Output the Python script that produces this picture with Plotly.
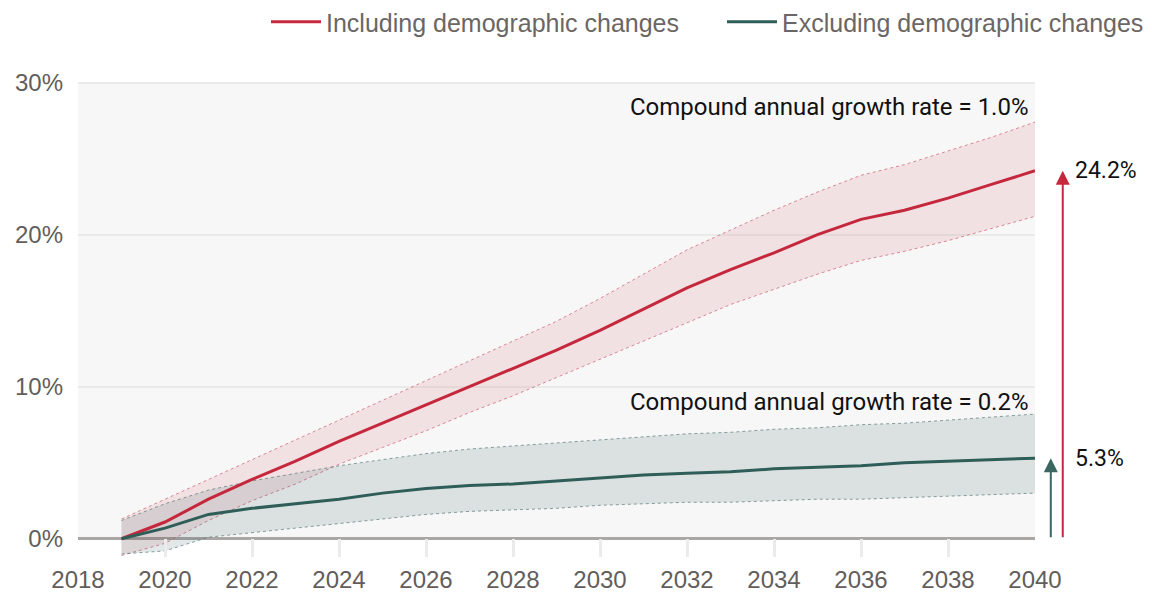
import plotly.graph_objects as go

years = list(range(2019, 2041))

incl = [0.0, 1.1, 2.6, 3.9, 5.1, 6.4, 7.6, 8.8, 10.0, 11.2, 12.4,
        13.7, 15.1, 16.5, 17.7, 18.8, 20.0, 21.0, 21.6, 22.4, 23.3, 24.2]
incl_upper = [1.3, 2.6, 3.9, 5.2, 6.5, 7.8, 9.1, 10.4, 11.7, 13.0, 14.3,
              15.8, 17.4, 19.0, 20.3, 21.6, 22.8, 23.9, 24.6, 25.5, 26.4, 27.4]
incl_lower = [-1.1, -0.3, 1.2, 2.5, 3.6, 4.9, 6.0, 7.1, 8.3, 9.4, 10.6,
              11.8, 13.0, 14.2, 15.4, 16.4, 17.4, 18.3, 18.9, 19.6, 20.4, 21.2]

excl = [0.0, 0.7, 1.6, 2.0, 2.3, 2.6, 3.0, 3.3, 3.5, 3.6, 3.8,
        4.0, 4.2, 4.3, 4.4, 4.6, 4.7, 4.8, 5.0, 5.1, 5.2, 5.3]
excl_upper = [1.2, 2.3, 3.2, 3.8, 4.3, 4.8, 5.2, 5.6, 5.9, 6.1, 6.3,
              6.5, 6.7, 6.9, 7.0, 7.2, 7.3, 7.5, 7.6, 7.8, 8.0, 8.2]
excl_lower = [-1.0, -0.8, 0.1, 0.4, 0.7, 1.0, 1.3, 1.6, 1.8, 1.9, 2.0,
              2.2, 2.3, 2.4, 2.4, 2.5, 2.6, 2.6, 2.7, 2.8, 2.9, 3.0]

x_ticks = list(range(2018, 2041, 2))
y_ticks = [0, 10, 20, 30]
y_labels = ["0%", "10%", "20%", "30%"]

RED = "#c5283d"
GREEN = "#2f5e59"

fig = go.Figure()

# background panel from 0% to 30%
fig.add_shape(type="rect", xref="x", yref="y", x0=2018, x1=2040, y0=0, y1=30,
              fillcolor="#f7f7f7", line_width=0, layer="below")

# uncertainty bands
def add_band(lower, upper, fill, edge):
    fig.add_trace(go.Scatter(x=years, y=lower, mode="lines", showlegend=False,
                             line=dict(color=edge, width=1, dash="dot"),
                             hoverinfo="skip"))
    fig.add_trace(go.Scatter(x=years, y=upper, mode="lines", showlegend=False,
                             fill="tonexty", fillcolor=fill,
                             line=dict(color=edge, width=1, dash="dot"),
                             hoverinfo="skip"))

add_band(incl_lower, incl_upper, "rgba(200,40,60,0.10)", "rgba(205,90,110,0.7)")
add_band(excl_lower, excl_upper, "rgba(50,95,95,0.14)", "rgba(90,120,120,0.7)")

fig.add_trace(go.Scatter(x=years, y=incl, mode="lines",
                         name="Including demographic changes",
                         line=dict(color=RED, width=3)))
fig.add_trace(go.Scatter(x=years, y=excl, mode="lines",
                         name="Excluding demographic changes",
                         line=dict(color=GREEN, width=3)))

# growth arrows on the right (paper x so they are not hidden off-axis)
for xa, val, col in [(1.029, incl[-1], RED), (1.0165, excl[-1], "#3b6661")]:
    fig.add_annotation(x=xa, y=val, xref="paper", yref="y",
                       ax=0, ay=0, axref="pixel", ayref="y",
                       text="", showarrow=True,
                       arrowhead=2, arrowsize=1.4, arrowwidth=2, arrowcolor=col)
    fig.add_annotation(x=1.0395, y=val, xref="paper", yref="y", text=f"{val:.1f}%",
                       showarrow=False, xanchor="left", yanchor="middle",
                       font=dict(family="Roboto", size=23, color="#111111"))

fig.add_annotation(x=2039.9, y=28.4, xref="x", yref="y",
                   text="Compound annual growth rate = 1.0%", showarrow=False,
                   xanchor="right", yanchor="middle",
                   font=dict(family="Roboto", size=24, color="#111111"))
fig.add_annotation(x=2039.9, y=9.0, xref="x", yref="y",
                   text="Compound annual growth rate = 0.2%", showarrow=False,
                   xanchor="right", yanchor="middle",
                   font=dict(family="Roboto", size=24, color="#111111"))

fig.update_layout(
    width=1152, height=597,
    margin=dict(l=78, r=117, t=81, b=40, autoexpand=False),
    paper_bgcolor="white",
    plot_bgcolor="white",
    font=dict(family="Liberation Sans", size=24, color="#625d5b"),
    showlegend=True,
    legend=dict(orientation="h", traceorder="normal",
                yref="container", y=0.963, yanchor="middle",
                xref="container", x=266 / 1152, xanchor="left",
                font=dict(size=25, color="#6b6664"),
                itemwidth=50, entrywidth=391, entrywidthmode="pixels"),
    xaxis=dict(range=[2018, 2040], tickvals=x_ticks, showgrid=False,
               zeroline=False, showline=False, ticks="inside", ticklen=18,
               tickwidth=3, tickcolor="#ebebeb", ticklabelstandoff=6),
    yaxis=dict(range=[-1.2, 30.1], tickvals=y_ticks, ticktext=y_labels,
               showgrid=True, gridcolor="#e8ebe8", gridwidth=2,
               zeroline=True, zerolinecolor="#a9a6a4", zerolinewidth=3,
               showline=False, ticks="", ticklabelstandoff=14),
)

fig.write_html("out.html", config={"displayModeBar": False},
               post_script="document.body.style.margin='0';")
